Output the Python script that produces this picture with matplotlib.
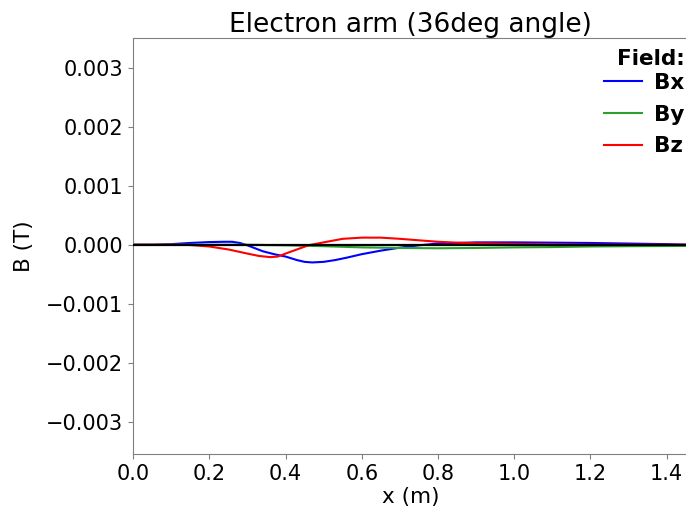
import matplotlib.pyplot as plt

# Bx along the arm: position (m), field (T)
bx_x = [0.0, 0.05, 0.1, 0.15, 0.2, 0.24, 0.26, 0.28, 0.3, 0.34, 0.37, 0.4,
        0.43, 0.45, 0.47, 0.5, 0.53, 0.56, 0.6, 0.65, 0.7, 0.75, 0.8, 0.9,
        1.0, 1.1, 1.2, 1.3, 1.4, 1.46]
bx = [0.0, 0.0, 0.00001, 0.00003, 0.000045, 0.00005, 0.00005, 0.00003,
      -0.00001, -0.00011, -0.00016, -0.0002, -0.00026, -0.00029, -0.0003,
      -0.00029, -0.00026, -0.00022, -0.00016, -0.0001, -0.00005, -0.00001,
      0.00002, 0.00004, 0.00004, 0.000035, 0.00003, 0.00002, 0.00001, 0.0]

# By
by_x = [0.0, 0.1, 0.2, 0.3, 0.4, 0.5, 0.6, 0.7, 0.8, 0.9, 1.0, 1.1, 1.2,
        1.3, 1.46]
by = [0.0, 0.0, 0.0, 0.0, -0.00001, -0.000025, -0.000045, -0.000055,
      -0.00006, -0.000055, -0.000045, -0.00004, -0.00003, -0.000025, -0.00002]

# Bz
bz_x = [0.0, 0.1, 0.15, 0.2, 0.25, 0.3, 0.33, 0.36, 0.38, 0.4, 0.43, 0.46,
        0.5, 0.55, 0.6, 0.65, 0.7, 0.75, 0.8, 0.85, 0.9, 1.0, 1.1, 1.2, 1.46]
bz = [0.0, 0.0, -0.000005, -0.00003, -0.00008, -0.00015, -0.00019, -0.00021,
      -0.0002, -0.00015, -0.00008, -0.00001, 0.00004, 0.0001, 0.00012,
      0.00012, 0.0001, 0.000075, 0.00005, 0.000035, 0.000025, 0.000015,
      0.000005, 0.0, 0.0]

fig = plt.figure(figsize=(6.86, 5.14), dpi=100)
ax = fig.add_axes([0.194, 0.116, 0.81, 0.81])

ax.plot(bx_x, bx, color="blue", lw=1.5, label="Bx")
ax.plot(by_x, by, color="#2ca02c", lw=1.5, label="By")
ax.plot(bz_x, bz, color="red", lw=1.5, label="Bz")
ax.axhline(0, color="black", lw=1.6, zorder=5)

ax.set_xlim(0, 1.458)
ax.set_ylim(-0.00355, 0.0035)
ax.set_yticks([-0.003, -0.002, -0.001, 0.0, 0.001, 0.002, 0.003])
ax.set_title("Electron arm (36deg angle)", fontsize=19, pad=4)
ax.set_xlabel("x (m)", fontsize=15.5, labelpad=2)
ax.set_ylabel("B (T)", fontsize=15.5, labelpad=9)
ax.tick_params(labelsize=15, color="gray")
for s in ax.spines.values():
    s.set_color("gray")

leg = ax.legend(title="Field:", loc="upper right", bbox_to_anchor=(1.0, 0.985),
                frameon=False, prop={"size": 15.5, "weight": "bold"},
                title_fontproperties={"size": 15.5, "weight": "bold"},
                alignment="right", handlelength=1.77, handletextpad=0.56,
                borderpad=0.1, borderaxespad=0.1, labelspacing=0.55)
# title sits closer to the entries than the entries to each other
leg._legend_box.sep = 3

fig.savefig("out.png", dpi=100)
